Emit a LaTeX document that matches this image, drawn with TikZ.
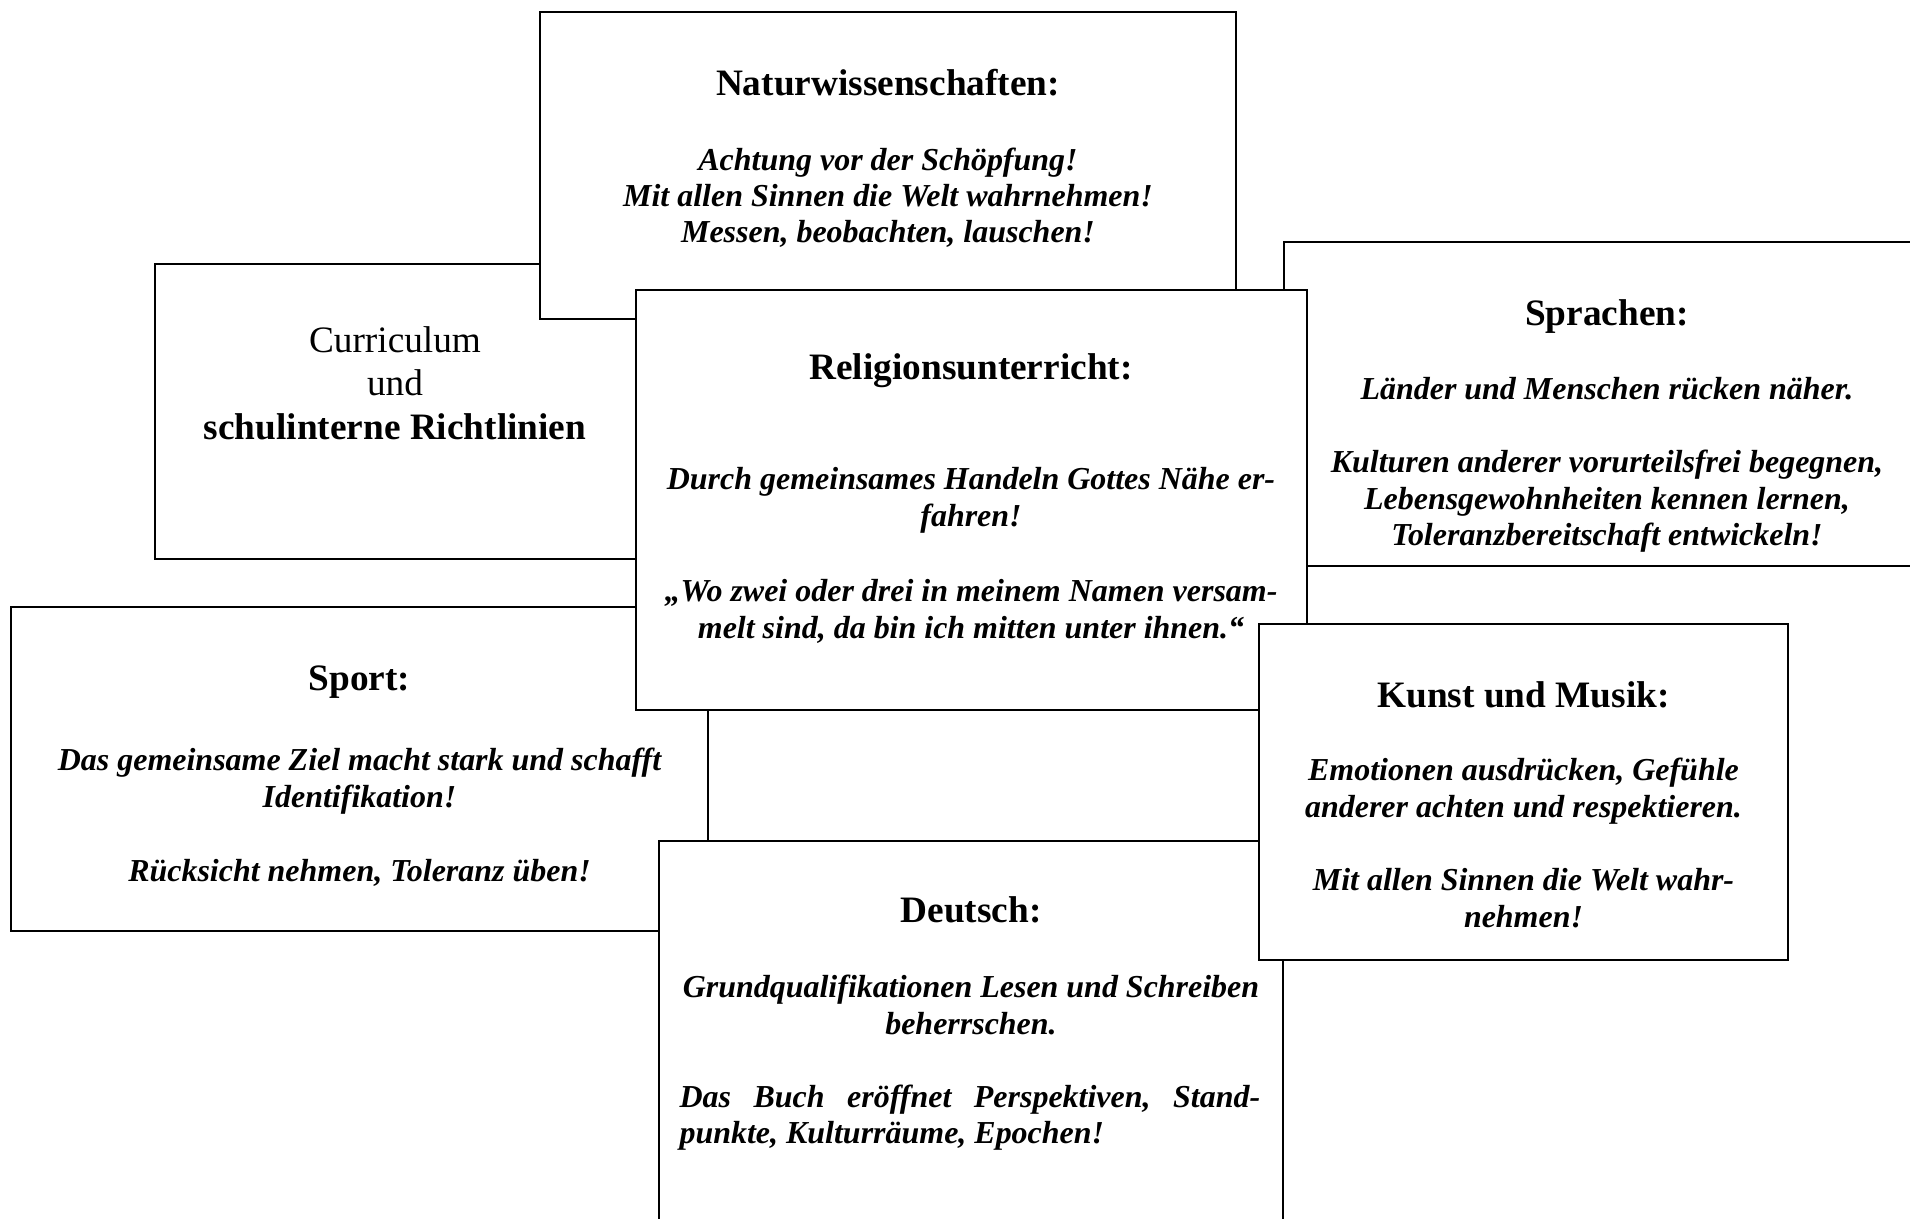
\documentclass[tikz,border=0pt]{standalone}
\usepackage{fontspec}
\setmainfont{Liberation Serif}
\tikzset{
  card/.style={draw=black, fill=white, line width=0.8pt},
  ttl/.style={anchor=base, inner sep=0pt, font=\fontsize{14}{16}\selectfont\bfseries},
  txt/.style={anchor=base, inner sep=0pt, font=\fontsize{12}{14}\selectfont\bfseries\itshape},
  txtw/.style={anchor=base west, inner sep=0pt, font=\fontsize{12}{14}\selectfont\bfseries\itshape},
  cur/.style={anchor=base, inner sep=0pt, font=\fontsize{14}{16}\selectfont},
}
\begin{document}
\begin{tikzpicture}[x=0.3754pt, y=-0.3754pt]
\useasboundingbox (0,0) rectangle (1910,1218);
\clip (0,0) rectangle (1910,1218);

% Sprachen
\filldraw[card] (1284,242) rectangle (1940,566);
\node[ttl] (s0) at (1607,325) {Sprachen:};
\node[txt] (s1) at (1607,399) {Länder und Menschen rücken näher.};
\node[txt] (s2) at (1607,472) {Kulturen anderer vorurteilsfrei begegnen,};
\node[txt] (s3) at (1607,509) {Lebensgewohnheiten kennen lernen,};
\node[txt] (s4) at (1607,545) {Toleranzbereitschaft entwickeln!};

% Curriculum
\filldraw[card] (155,264) rectangle (640,559);
\node[cur] (c1) at (395,352) {Curriculum};
\node[cur] (c2) at (395,395) {und};
\node[ttl] (c3) at (395,439) {schulinterne Richtlinien};

% Naturwissenschaften
\filldraw[card] (540,12) rectangle (1236,319);
\node[ttl] (n0) at (888,95) {Naturwissenschaften:};
\node[txt] (n1) at (888,170) {Achtung vor der Schöpfung!};
\node[txt] (n2) at (888,206) {Mit allen Sinnen die Welt wahrnehmen!};
\node[txt] (n3) at (888,242) {Messen, beobachten, lauschen!};

% Sport
\filldraw[card] (11,607) rectangle (708,931);
\node[ttl] (p0) at (359.5,690) {Sport:};
\node[txt] (p1) at (359.5,770) {Das gemeinsame Ziel macht stark und schafft};
\node[txt] (p2) at (359.5,807) {Identifikation!};
\node[txt] (p3) at (359.5,881) {Rücksicht nehmen, Toleranz üben!};

% Religionsunterricht
\filldraw[card] (636,290) rectangle (1307,710);
\node[ttl] (r0) at (971,379) {Religionsunterricht:};
\node[txt] (r1) at (971,489) {Durch gemeinsames Handeln Gottes Nähe er-};
\node[txt] (r2) at (971,526) {fahren!};
\node[txt] (r3) at (971,601) {„Wo zwei oder drei in meinem Namen versam-};
\node[txt] (r4) at (971,638) {melt sind, da bin ich mitten unter ihnen.“};

% Deutsch
\filldraw[card] (659,841) rectangle (1283,1240);
\node[ttl] (d0) at (971,922) {Deutsch:};
\node[txt] (d1) at (971,997) {Grundqualifikationen Lesen und Schreiben};
\node[txt] (d2) at (971,1034) {beherrschen.};
\node[txtw] (d3) at (679,1107) {\hbox to 218pt{Das\hfill Buch\hfill eröffnet\hfill Perspektiven,\hfill Stand-}};
\node[txtw] (d4) at (679,1143) {punkte, Kulturräume, Epochen!};

% Kunst und Musik
\filldraw[card] (1259,624) rectangle (1788,960);
\node[ttl] (k0) at (1523.5,707) {Kunst und Musik:};
\node[txt] (k1) at (1523.5,780) {Emotionen ausdrücken, Gefühle};
\node[txt] (k2) at (1523.5,817) {anderer achten und respektieren.};
\node[txt] (k3) at (1523.5,890) {Mit allen Sinnen die Welt wahr-};
\node[txt] (k4) at (1523.5,927) {nehmen!};
\end{tikzpicture}
\end{document}
